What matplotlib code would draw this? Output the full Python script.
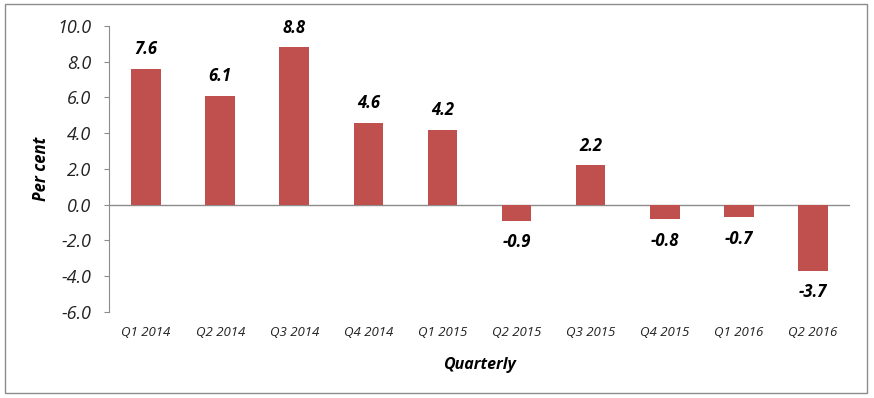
import matplotlib
matplotlib.use("Agg")
import matplotlib.pyplot as plt
from matplotlib.patches import Rectangle

quarters = ["Q1 2014", "Q2 2014", "Q3 2014", "Q4 2014", "Q1 2015",
            "Q2 2015", "Q3 2015", "Q4 2015", "Q1 2016", "Q2 2016"]
growth = [7.6, 6.1, 8.8, 4.6, 4.2, -0.9, 2.2, -0.8, -0.7, -3.7]
yticks = [-6, -4, -2, 0, 2, 4, 6, 8, 10]

plt.rcParams["font.family"] = ["Open Sans", "DejaVu Sans"]

fig = plt.figure(figsize=(8.74, 3.98), dpi=100)
ax = fig.add_axes([0.1247, 0.2161, 0.8478, 0.7186])

x = list(range(len(quarters)))
ax.bar(x, growth, width=0.4, color="#C0504D", zorder=2)
ax.set_xlim(-0.5, len(quarters) - 0.5)
ax.set_ylim(-6, 10)

# value labels above / below each bar
for xi, v in zip(x, growth):
    off = 0.6 if v >= 0 else -0.7
    ax.text(xi, v + off, f"{v:.1f}", ha="center",
            va="bottom" if v >= 0 else "top",
            fontsize=12, fontweight="bold", style="italic", color="black")

ax.axhline(0, color="#8c8c8c", lw=1, zorder=1)
for s in ["top", "right", "bottom"]:
    ax.spines[s].set_visible(False)
ax.spines["left"].set_color("#8c8c8c")
ax.set_yticks(yticks)
ax.set_yticklabels([f"{t:.1f}" for t in yticks], style="italic")
ax.tick_params(axis="y", colors="#8c8c8c", labelcolor="#222222",
               labelsize=13, length=3.6, pad=9)
ax.set_xticks(x)
ax.set_xticklabels(quarters, style="italic", color="#222222")
ax.tick_params(axis="x", length=0, pad=10, labelsize=9.5)

ax.set_ylabel("Per cent", fontsize=12, fontweight="bold", style="italic", labelpad=5)
ax.set_xlabel("Quarterly", fontsize=11.5, fontweight="bold", style="italic", labelpad=13)

fig.patches.append(Rectangle((5 / 874, 5 / 398), 862 / 874, 389 / 398,
                             transform=fig.transFigure, fill=False,
                             edgecolor="#8c8c8c", lw=1))

fig.savefig("out.png", dpi=100)
